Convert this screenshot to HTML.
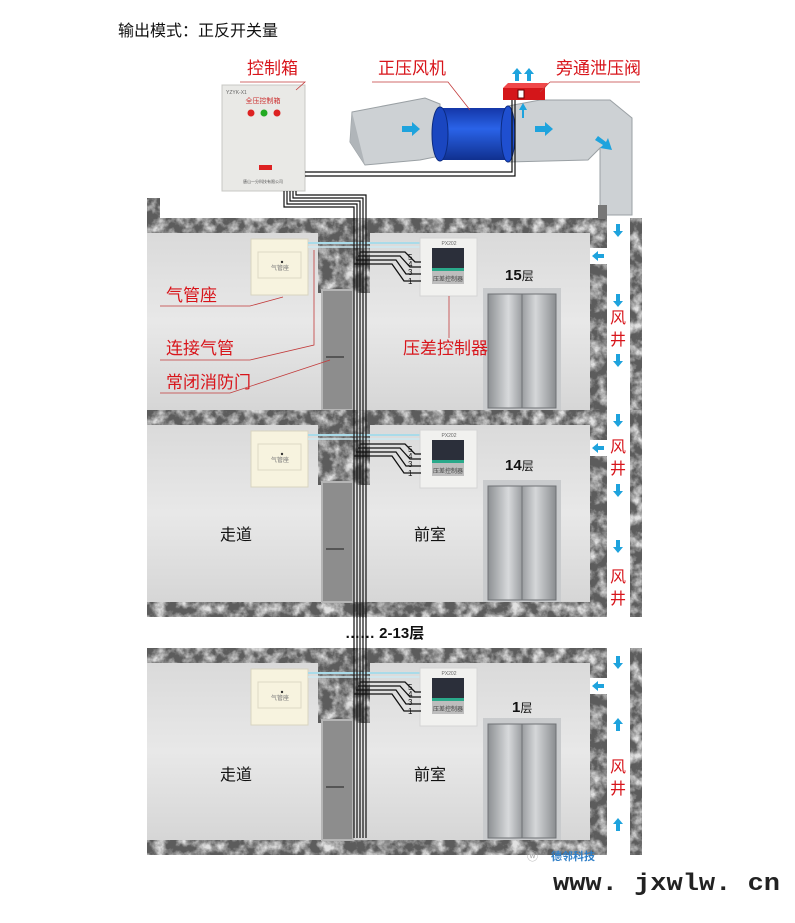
<!DOCTYPE html>
<html><head><meta charset="utf-8"><style>
html,body{margin:0;padding:0;background:#fff;}
svg{display:block;font-family:"Liberation Sans","Noto Sans CJK SC",sans-serif;}
</style></head><body>
<svg width="795" height="923" viewBox="0 0 795 923" xmlns="http://www.w3.org/2000/svg">
<defs>
<filter id="stone" x="0" y="0" width="100%" height="100%">
<feTurbulence type="fractalNoise" baseFrequency="0.09" numOctaves="4" seed="3"/>
<feColorMatrix type="matrix" values="0 0 0 0 0.75  0 0 0 0 0.75  0 0 0 0 0.75  0 0 0 -2.4 1.5"/>
</filter>
<linearGradient id="wall" x1="0" y1="0" x2="0" y2="1"><stop offset="0" stop-color="#dadada"/><stop offset="0.5" stop-color="#e8e8e8"/><stop offset="1" stop-color="#d6d6d6"/></linearGradient>
<linearGradient id="elev" x1="0" y1="0" x2="1" y2="0"><stop offset="0" stop-color="#8d9093"/><stop offset="0.3" stop-color="#d8dadc"/><stop offset="0.5" stop-color="#9a9da0"/><stop offset="0.7" stop-color="#d5d7d9"/><stop offset="1" stop-color="#8a8d90"/></linearGradient>
<linearGradient id="fan" x1="0" y1="0" x2="0" y2="1"><stop offset="0" stop-color="#1437a8"/><stop offset="0.4" stop-color="#2a63e8"/><stop offset="1" stop-color="#10308f"/></linearGradient>
<g id="floor">
 <rect x="147" y="218" width="495" height="16" fill="#5c5c5c"/>
 <rect x="147" y="218" width="495" height="16" filter="url(#stone)"/>
 <rect x="147" y="409" width="495" height="16" fill="#5c5c5c"/>
 <rect x="147" y="409" width="495" height="16" filter="url(#stone)"/>
 <rect x="147" y="233" width="443" height="177" fill="url(#wall)"/>
 <rect x="318" y="233" width="52" height="60" fill="#5c5c5c"/>
 <rect x="318" y="233" width="52" height="60" filter="url(#stone)"/>
 <rect x="322" y="290" width="31" height="120" fill="#8d8d8d" stroke="#b5b5b5" stroke-width="2"/>
 <rect x="326" y="356" width="18" height="2" fill="#555"/>
 <rect x="590" y="233" width="17" height="177" fill="#5c5c5c"/>
 <rect x="590" y="233" width="17" height="177" filter="url(#stone)"/>
 <rect x="590" y="248" width="17" height="16" fill="#fff"/>
 <polygon points="592,256 598,251 598,254 604,254 604,258 598,258 598,261" fill="#1ea3dd"/>
 <rect x="607" y="218" width="23" height="207" fill="#fff"/>
 <rect x="630" y="218" width="12" height="207" fill="#5c5c5c"/>
 <rect x="630" y="218" width="12" height="207" filter="url(#stone)"/>
 <rect x="251" y="239" width="57" height="56" fill="#f7f3df" stroke="#d8d4c0"/>
 <rect x="258" y="252" width="43" height="26" fill="none" stroke="#ddd8c4"/>
 <text x="280" y="270" font-size="6" fill="#777" text-anchor="middle">气管座</text>
 <circle cx="282" cy="262" r="1.2" fill="#333"/>
 <line x1="308" y1="243" x2="420" y2="243" stroke="#a9dbe9" stroke-width="2"/>
 <line x1="308" y1="247" x2="420" y2="247" stroke="#cde9f1" stroke-width="1.5"/>
 <rect x="420" y="238" width="57" height="58" fill="#f1f1ef" stroke="#d5d5d5"/>
 <text x="449" y="245" font-size="5" fill="#666" text-anchor="middle">PX202</text>
 <rect x="432" y="248" width="32" height="20" fill="#2b2f3a"/>
 <rect x="432" y="268" width="32" height="3" fill="#2aa98a"/>
 <rect x="432" y="271" width="32" height="13" fill="#bdbdbd"/>
 <text x="448" y="281" font-size="6" fill="#444" text-anchor="middle">压差控制器</text>
 <g fill="none" stroke="#111" stroke-width="1.3">
  <path d="M360,252 H405 L415,262 H421"/>
  <path d="M358,256 H400 L410,267 H421"/>
  <path d="M356,260 H396 L406,274 H421"/>
  <path d="M354,264 H392 L404,281 H421"/>
 </g>
 <g font-size="8" fill="#111"><text x="408" y="260">5</text><text x="408" y="267">4</text><text x="408" y="275">3</text><text x="408" y="284">1</text></g>
 <rect x="483" y="288" width="78" height="122" fill="#c9cbcd"/>
 <rect x="488" y="294" width="68" height="114" fill="url(#elev)" stroke="#6f7275"/>
 <line x1="522" y1="294" x2="522" y2="408" stroke="#6f7275"/>
</g>
</defs>

<text x="118" y="36" font-size="16" fill="#111">输出模式：正反开关量</text>

<polygon points="352,112 425,98 440,104 440,156 420,160 365,165 350,142" fill="#cdd1d4" stroke="#9aa0a4"/>
<polygon points="352,112 365,165 350,142" fill="#b0b5b9"/>
<polygon points="508,106 540,100 610,100 632,118 632,215 600,215 600,148 588,160 508,162" fill="#cdd1d4" stroke="#9aa0a4"/>
<rect x="440" y="108" width="68" height="52" fill="url(#fan)"/>
<ellipse cx="440" cy="134" rx="8" ry="27" fill="#1a46c0" stroke="#0c2b80"/>
<ellipse cx="508" cy="134" rx="7" ry="28" fill="#1f4fd0" stroke="#0c2b80"/>
<polygon points="402,126 412,126 412,122 420,129 412,136 412,132 402,132" fill="#1ea3dd"/>
<polygon points="535,126 545,126 545,122 553,129 545,136 545,132 535,132" fill="#1ea3dd"/>
<polygon points="598,136 606,142 608,138 612,150 600,148 603,145 595,140" fill="#1ea3dd"/>
<polygon points="522,118 522,110 519,110 523,103 527,110 524,110 524,118" fill="#1ea3dd"/>
<polygon points="503,88 545,88 545,100 503,100" fill="#d4161a"/>
<polygon points="503,88 508,83 548,83 545,88" fill="#f0484a"/>
<rect x="518" y="90" width="6" height="8" fill="#fff" stroke="#600"/>
<polygon points="515,81 515,74 512,74 517,68 522,74 519,74 519,81" fill="#1ea3dd"/>
<polygon points="527,81 527,74 524,74 529,68 534,74 531,74 531,81" fill="#1ea3dd"/>

<rect x="222" y="85" width="83" height="106" fill="#e9e9e6" stroke="#c8c8c4"/>
<text x="226" y="94" font-size="5" fill="#666">YZYK-X1</text>
<text x="263" y="103" font-size="7" fill="#c33" text-anchor="middle">全压控制箱</text>
<circle cx="251" cy="113" r="3.5" fill="#d22"/><circle cx="264" cy="113" r="3.5" fill="#2a2"/><circle cx="277" cy="113" r="3.5" fill="#d22"/>
<rect x="259" y="165" width="13" height="5" fill="#d22"/>
<text x="263" y="183" font-size="4" fill="#555" text-anchor="middle">唐山一分科技有限公司</text>

<rect x="147" y="198" width="13" height="36" fill="#5c5c5c"/>
<rect x="147" y="198" width="13" height="36" filter="url(#stone)"/>

<use href="#floor"/>
<use href="#floor" y="192"/>
<use href="#floor" y="430"/>
<rect x="598" y="205" width="9" height="14" fill="#777"/>

<g fill="none" stroke="#111" stroke-width="1.2">
 <path d="M284,191 V207 H354 V838"/>
 <path d="M287,191 V204 H357 V838"/>
 <path d="M290,191 V201 H360 V838"/>
 <path d="M293,191 V198 H363 V838"/>
 <path d="M296,191 V195 H366 V838"/>
 <path d="M305,172 H512 V100"/>
 <path d="M305,176 H515 V100"/>
</g>
<rect x="340" y="618" width="40" height="30" fill="#fff"/>
<g stroke="#111" stroke-width="1.2"><line x1="354" y1="613" x2="354" y2="650"/><line x1="357" y1="613" x2="357" y2="650"/><line x1="360" y1="613" x2="360" y2="650"/><line x1="363" y1="613" x2="363" y2="650"/><line x1="366" y1="613" x2="366" y2="650"/></g>

<g fill="#1ea3dd">
 <path id="dn" d="M616,224 h4 v7 h3 l-5,6 l-5,-6 h3z"/>
 <use href="#dn" y="70"/><use href="#dn" y="130"/><use href="#dn" y="190"/><use href="#dn" y="260"/><use href="#dn" y="316"/><use href="#dn" y="432"/>
 <path id="up" d="M618,718 l5,6 h-3 v7 h-4 v-7 h-3z"/>
 <use href="#up" y="100"/>
</g>
<g fill="#d8151b" font-size="16" text-anchor="middle">
 <text x="618" y="323">风</text><text x="618" y="345">井</text>
 <text x="618" y="452">风</text><text x="618" y="474">井</text>
 <text x="618" y="582">风</text><text x="618" y="604">井</text>
 <text x="618" y="772">风</text><text x="618" y="794">井</text>
</g>

<g font-weight="bold" fill="#111" font-size="15">
 <text x="505" y="280">15<tspan font-size="12" font-weight="normal">层</tspan></text>
 <text x="505" y="470">14<tspan font-size="12" font-weight="normal">层</tspan></text>
 <text x="512" y="712">1<tspan font-size="12" font-weight="normal">层</tspan></text>
 <text x="345" y="638" font-size="15">……  2-13<tspan font-weight="bold">层</tspan></text>
</g>
<g font-size="16" fill="#111" text-anchor="middle">
 <text x="236" y="540">走道</text><text x="430" y="540">前室</text>
 <text x="236" y="780">走道</text><text x="430" y="780">前室</text>
</g>

<g fill="#d8151b" font-size="17">
 <text x="247" y="74">控制箱</text>
 <text x="378" y="74">正压风机</text>
 <text x="556" y="74">旁通泄压阀</text>
 <text x="166" y="301">气管座</text>
 <text x="166" y="354">连接气管</text>
 <text x="166" y="388">常闭消防门</text>
 <text x="403" y="354">压差控制器</text>
</g>
<g fill="none" stroke="#c23b3b" stroke-width="0.8">
 <path d="M240,82 H305 L296,90"/>
 <path d="M372,82 H448 L470,110"/>
 <path d="M550,82 H640"/><path d="M550,82 L540,92"/>
 <path d="M160,306 H250 L283,297"/>
 <path d="M160,360 H250 L314,345 V250"/>
 <path d="M160,393 H230 L330,360"/>
 <line x1="449" y1="296" x2="449" y2="338"/>
</g>

<text x="527" y="860" font-size="11" fill="#aaa">ⓦ</text>
<text x="551" y="860" font-size="11" font-weight="bold" fill="#2f7fc8">德邻科技</text>
<text x="553" y="890" font-size="24" font-weight="bold" fill="#222" font-family="Liberation Mono,monospace" textLength="227" lengthAdjust="spacingAndGlyphs">www. jxwlw. cn</text>
</svg>
</body></html>
